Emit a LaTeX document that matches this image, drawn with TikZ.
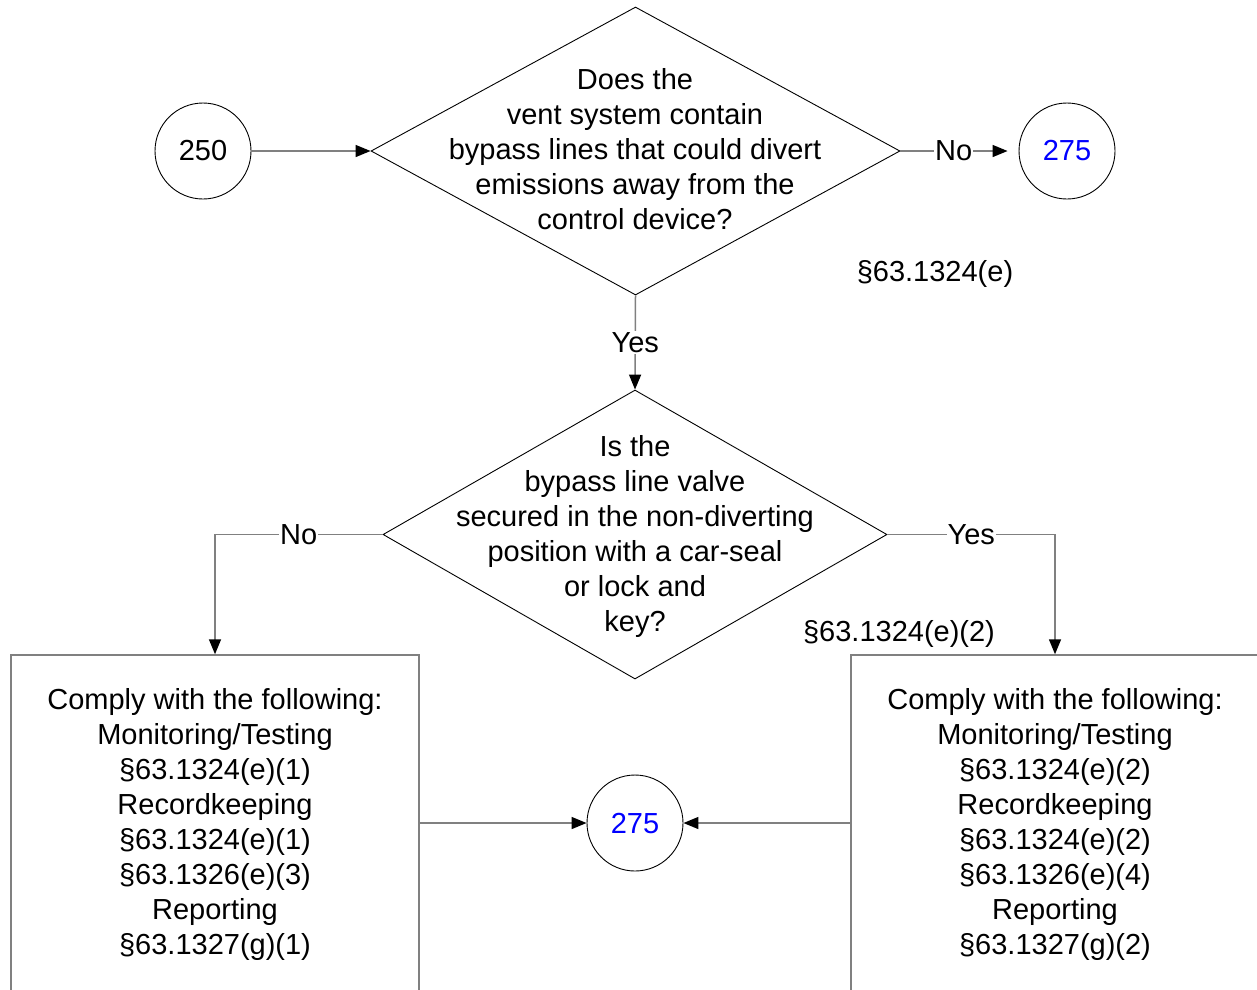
\documentclass[tikz,border=0pt]{standalone}
\usepackage{fontspec}
\setmainfont{Liberation Sans}
\usetikzlibrary{shapes.geometric,arrows.meta}
\definecolor{linegray}{RGB}{128,128,128}
\definecolor{numblue}{RGB}{0,0,255}
\begin{document}
\begin{tikzpicture}[x=1pt,y=-1pt,
  every node/.style={font=\fontsize{29}{35.1}\selectfont},
  conn/.style={draw=linegray, line width=1.5pt, -{Triangle[length=15pt,width=12pt,color=black]}},
  plain/.style={draw=linegray, line width=1.5pt},
  dia/.style={diamond, draw, line width=0.9pt, inner sep=0pt},
  circ/.style={circle, draw, line width=0.9pt, minimum size=96pt, inner sep=0pt},
  box/.style={rectangle, draw=linegray, line width=1.5pt, minimum width=408pt, minimum height=380pt, inner sep=0pt},
  lbl/.style={fill=white, inner sep=1pt},
  txt/.style={align=center, inner sep=0pt}]
\useasboundingbox (0,0) rectangle (1257,989);
\clip (0,0) rectangle (1257,989);

% diamonds
\node[dia, minimum width=529pt, minimum height=288pt] (d1) at (635.5,151) {};
\node[txt] (t1) at (635,149) {Does the\\vent system contain\\bypass lines that could divert\\emissions away from the\\control device?};
\node[dia, minimum width=504pt, minimum height=289pt] (d2) at (635,534.5) {};
\node[txt] (t2) at (635,536.5) {Is the\\bypass line valve\\secured in the non-diverting\\position with a car-seal\\or lock and\\key?};

% circles
\node[circ] (c250) at (203,151) {250};
\node[circ, text=numblue] (c275a) at (1067,151) {275};
\node[circ, text=numblue] (c275b) at (635,823) {275};

% boxes
\node[box] (b1) at (215,845) {};
\node[txt] (bt1) at (215,824.5) {Comply with the following:\\Monitoring/Testing\\§63.1324(e)(1)\\Recordkeeping\\§63.1324(e)(1)\\§63.1326(e)(3)\\Reporting\\§63.1327(g)(1)};
\node[box] (b2) at (1055,845) {};
\node[txt] (bt2) at (1055,824.5) {Comply with the following:\\Monitoring/Testing\\§63.1324(e)(2)\\Recordkeeping\\§63.1324(e)(2)\\§63.1326(e)(4)\\Reporting\\§63.1327(g)(2)};

% citations
\node[txt] (r1) at (935,274) {§63.1324(e)};
\node[txt] (r2) at (899,634) {§63.1324(e)(2)};

% connectors
\draw[conn] (c250) -- (d1.west);
\draw[conn, shorten >=11pt] (d1.east) -- node[lbl, pos=0.45] {No} (c275a.west);
\draw[conn] (d1.south) -- node[lbl] {Yes} (d2.north);
\draw[conn] (d2.west) -| node[lbl, pos=0.25] {No} (b1.north);
\draw[conn] (d2.east) -| node[lbl, pos=0.25] {Yes} (b2.north);
\draw[conn] (b1.east |- c275b) -- (c275b.west);
\draw[conn] (b2.west |- c275b) -- (c275b.east);
\end{tikzpicture}
\end{document}
